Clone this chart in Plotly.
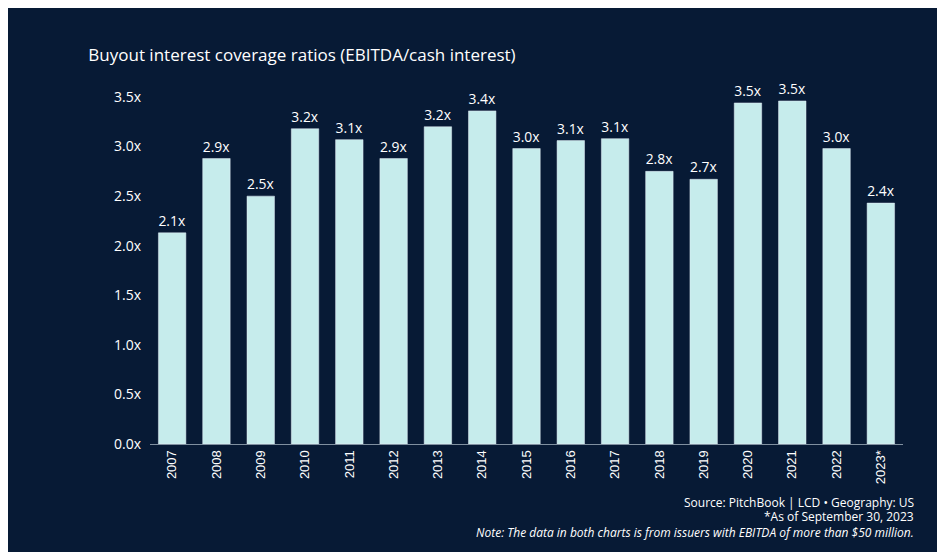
import plotly.graph_objects as go

years = ["2007","2008","2009","2010","2011","2012","2013","2014","2015","2016","2017","2018","2019","2020","2021","2022","2023*"]
values = [2.13,2.88,2.50,3.18,3.07,2.88,3.20,3.36,2.98,3.06,3.08,2.75,2.67,3.44,3.46,2.98,2.43]
labels = ["2.1x","2.9x","2.5x","3.2x","3.1x","2.9x","3.2x","3.4x","3.0x","3.1x","3.1x","2.8x","2.7x","3.5x","3.5x","3.0x","2.4x"]
yticks = [0,0.5,1,1.5,2,2.5,3,3.5]
yticklabels = ["0.0x","0.5x","1.0x","1.5x","2.0x","2.5x","3.0x","3.5x"]

bg = "#071a35"
T, B, L, R = 89, 116, 142, 50
fig = go.Figure(go.Bar(x=years, y=values, text=labels, textposition="outside",
                       textfont=dict(color="white", size=14), marker_color="#c6ecec",
                       width=0.62, cliponaxis=False))
fig.update_layout(
    width=945, height=552, paper_bgcolor=bg, plot_bgcolor=bg,
    font=dict(family="Open Sans", color="white"),
    margin=dict(l=L, r=R, t=T, b=B, autoexpand=False),
    title=dict(text="Buyout interest coverage ratios (EBITDA/cash interest)", x=0.085, xanchor="left",
               y=0.925, font=dict(size=17, color="white")),
    showlegend=False,
    xaxis=dict(tickangle=-90, tickfont=dict(family="Liberation Sans Narrow, Liberation Sans", size=13, color="white"),
               showline=True, linecolor="#8090a0", linewidth=1, ticks="", automargin=False),
    yaxis=dict(range=[0,3.5], tickvals=yticks, ticktext=yticklabels, showgrid=False, zeroline=False,
               tickfont=dict(size=14, color="white"), ticklabelstandoff=8, automargin=False),
)
for t, ypx, it in [("Source: PitchBook | LCD • Geography: US", 494, False),
                   ("*As of September 30, 2023", 509, False),
                   ("Note: The data in both charts is from issuers with EBITDA of more than $50 million.", 524, True)]:
    fig.add_annotation(text=("<i>%s</i>" % t) if it else t, xref="paper", yref="paper",
                       x=(908-L)/(945-L-R), xanchor="right",
                       y=(552-B-ypx)/(552-T-B), yanchor="middle",
                       showarrow=False, font=dict(size=12, color="white"))
fig.write_html("out.html")
